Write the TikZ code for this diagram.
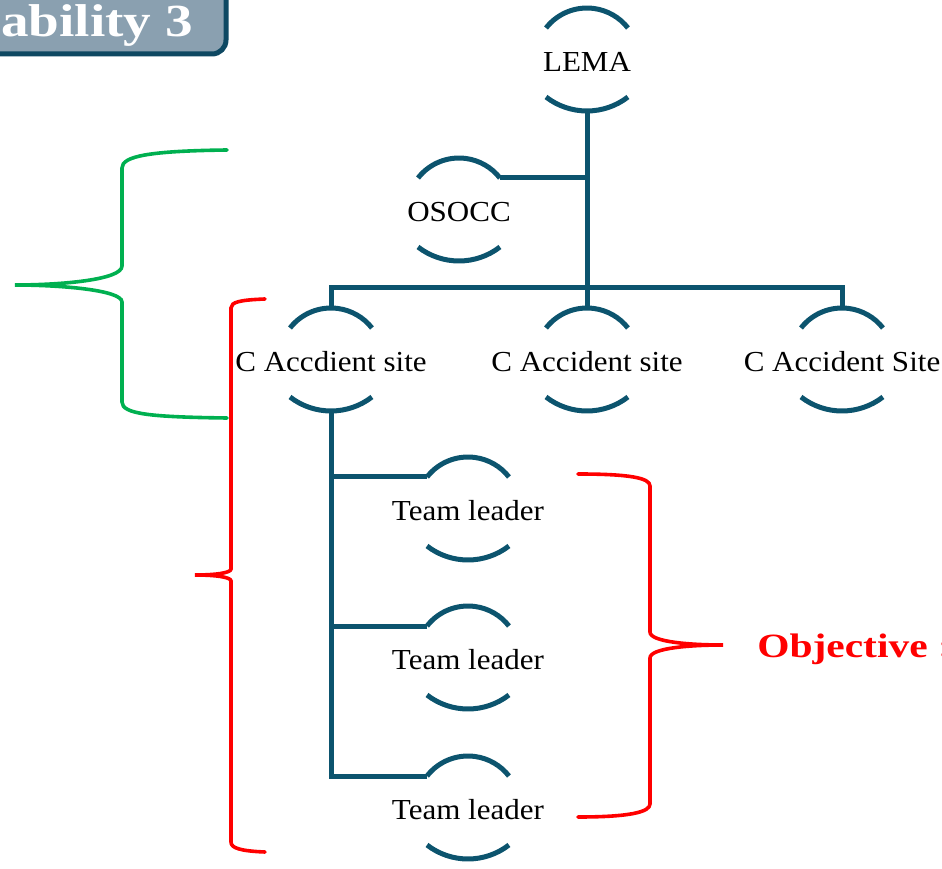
\documentclass[tikz,border=0pt]{standalone}
\usepackage{fontspec}
\setmainfont{Liberation Serif}
\usepackage{tikz}

\definecolor{orgline}{RGB}{12,84,110}
\definecolor{tagfill}{RGB}{138,160,176}
\definecolor{tagedge}{RGB}{14,72,98}
\definecolor{bracegreen}{RGB}{0,176,80}

\begin{document}
\begin{tikzpicture}[x=1pt, y=1pt,
    post/.style={font=\fontsize{29}{35}\selectfont, xscale=1.07, text height=19pt, text depth=0pt, inner sep=0pt},
    rim/.style={orgline, line width=5pt},
    link/.style={orgline, line width=5pt},
    curly/.style={line width=3.6pt, line cap=round}]
\useasboundingbox (0,0) rectangle (942,868);
\clip (0,0) rectangle (942,868);

\draw [tagedge, fill=tagfill, line width=5pt, rounded corners=14pt] (-20,814) rectangle (226,890);
\node (tag) [anchor=base east, text=white, xscale=1.2, inner sep=0pt,
    font=\fontsize{46}{52}\selectfont\bfseries] at (193,831) {ability 3};

    \node (lema) at (587,806) [post] {LEMA};
    \node (osocc) at (459,656) [post] {OSOCC};
\node (siteA) at (331,506) [post] {C Accdient site};
\node (siteB) at (587,506) [post] {C Accident site};
\node (siteC) at (842,506) [post] {C Accident Site};
\node (lead1) at (468,357) [post] {Team leader};
\node (lead2) at (468,208) [post] {Team leader};
\node (lead3) at (468,58) [post] {Team leader};

\foreach \n in {lema,osocc,siteA,siteB,siteC,lead1,lead2,lead3} {
    \coordinate (\n-t) at ([yshift=54]\n.center);
    \coordinate (\n-b) at ([yshift=-49]\n.center);
    \coordinate (\n-l) at ([shift={(-41,34)}]\n.center);
    \coordinate (\n-r) at ([shift={(41,34)}]\n.center);
    \draw [rim] (\n-l) arc [start angle=142, end angle=38, radius=52];
    \draw [rim] ([shift={(-41,-35)}]\n.center) arc [start angle=232.3, end angle=307.7, radius=67];
}

\draw [link] (lema-b) -- (siteB-t);
\draw [link] (osocc-r) -- (osocc-r -| lema);
\draw [link] (siteA-t) -- ++(0,20) -| (siteC-t);
\draw [link] (siteA-b) |- (lead3-l);
\draw [link] (lead1-l) -- (lead1-l -| siteA);
\draw [link] (lead2-l) -- (lead2-l -| siteA);

\draw [curly, bracegreen] (227,718) .. controls (150,717) and (122,712) .. (122,700) -- (122,602)
    .. controls (122,588) and (60,583) .. (15,583) .. controls (60,583) and (122,578) .. (122,566)
    -- (122,466) .. controls (122,454) and (150,451) .. (227,450);
\draw [curly, red] (265,569) .. controls (240,568) and (231,566) .. (231,560) -- (231,299)
    .. controls (231,295) and (215,293) .. (195,293) .. controls (215,293) and (231,291) .. (231,287)
    -- (231,26) .. controls (231,20) and (240,17) .. (265,16);
\draw [curly, red] (578,394) .. controls (630,394) and (650,390) .. (650,382) -- (650,236)
    .. controls (650,226) and (690,223) .. (723,223) .. controls (690,223) and (650,220) .. (650,210)
    -- (650,64) .. controls (650,56) and (630,51) .. (578,51);

\node (goal) [anchor=base west, text=red, xscale=1.22, inner sep=0pt,
    font=\fontsize{34}{40}\selectfont\bfseries] at (757,211) {Objective :};
\end{tikzpicture}
\end{document}
